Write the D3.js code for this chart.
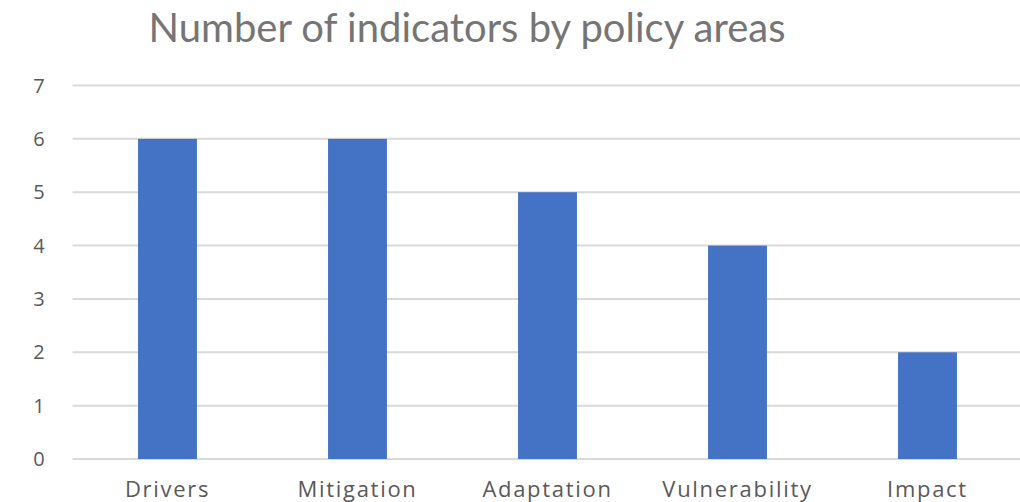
<!DOCTYPE html>
<html>
<head>
<meta charset="utf-8">
<script src="https://cdn.jsdelivr.net/npm/d3@7"></script>
<style>
  body { margin: 0; background: #fff; }
  .root { width: 1020px; height: 502px; overflow: hidden; }
</style>
</head>
<body>
<div class="root"></div>
<script>
var categories = ['Drivers', 'Mitigation', 'Adaptation', 'Vulnerability', 'Impact'];
var counts = [6, 6, 5, 4, 2];
var yTicks = [0, 1, 2, 3, 4, 5, 6, 7];
var title = 'Number of indicators by policy areas';

function drawChart() {
  var w = 1020, h = 502;
  var left = 72.5, right = 1022.5, top = 85.5, bottom = 459;

  var svg = d3.select('.root').append('svg')
    .attr('width', w)
    .attr('height', h);

  var x = d3.scaleBand()
    .domain(categories)
    .range([left, right])
    .paddingInner(0.69)
    .paddingOuter(0.345);

  var y = d3.scaleLinear()
    .domain([0, 7])
    .range([bottom, top]);

  // gridlines
  svg.append('g')
    .selectAll('line')
    .data(yTicks)
    .enter().append('line')
      .attr('x1', left)
      .attr('x2', w)
      .attr('y1', function(d) { return y(d); })
      .attr('y2', function(d) { return y(d); })
      .style('stroke', '#d9d9d9')
      .style('stroke-width', 2);

  // y tick labels
  svg.append('g')
    .selectAll('text')
    .data(yTicks)
    .enter().append('text')
      .attr('x', 39)
      .attr('y', function(d) { return y(d); })
      .attr('dy', '0.36em')
      .attr('text-anchor', 'middle')
      .style('font-family', '"Open Sans", sans-serif')
      .style('font-size', '20px')
      .style('fill', '#595959')
      .text(function(d) { return d; });

  // bars
  svg.append('g')
    .selectAll('rect')
    .data(counts)
    .enter().append('rect')
      .attr('x', function(d, i) { return x(categories[i]); })
      .attr('width', x.bandwidth())
      .attr('y', function(d) { return y(d); })
      .attr('height', function(d) { return y(0) - y(d); })
      .style('fill', '#4472c4');

  // category labels
  svg.append('g')
    .selectAll('text')
    .data(categories)
    .enter().append('text')
      .attr('x', function(d) { return x(d) + x.bandwidth() / 2; })
      .attr('y', 497)
      .attr('text-anchor', 'middle')
      .style('font-family', '"Open Sans", sans-serif')
      .style('font-size', '22px')
      .style('letter-spacing', '1.7px')
      .style('fill', '#595959')
      .text(function(d) { return d; });

  svg.append('text')
    .attr('x', 467)
    .attr('y', 42)
    .attr('text-anchor', 'middle')
    .style('font-family', 'Lato, sans-serif')
    .style('font-size', '40px')
    .style('fill', '#757575')
    .text(title);
}

window.onload = function() {
  drawChart();
}
</script>
</body>
</html>
